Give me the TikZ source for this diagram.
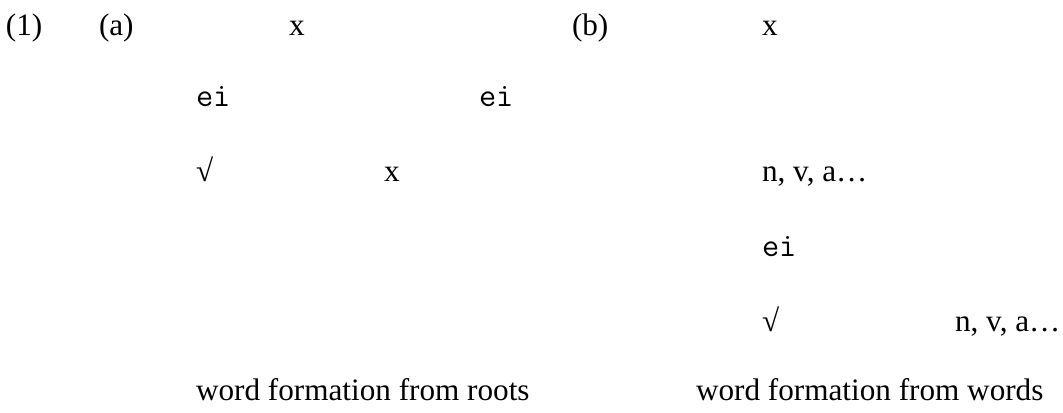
\documentclass[tikz,border=0pt]{standalone}
\usepackage{fontspec}
\setmainfont{Liberation Serif}
\begin{document}
\begin{tikzpicture}[x=0.75pt,y=-0.75pt,
  lbl/.style={inner sep=0pt,outer sep=0pt,anchor=base west,font=\fontsize{23.4}{28}\selectfont},
  mono/.style={lbl,font=\fontsize{25}{30}\selectfont\ttfamily}]
\useasboundingbox (0,0) rectangle (1063,412);
% row 1
\node[lbl] (n1) at (6,35) {(1)};
\node[lbl] (na) at (99,35) {(a)};
\node[lbl] (ax) at (289,35) {x};
\node[lbl] (nb) at (572,35) {(b)};
\node[lbl] (bx) at (762,35) {x};
% row 2
\node[mono] (aei1) at (196,106) {ei};
\node[mono] (aei2) at (479,106) {ei};
% row 3
\node[lbl] (aroot) at (196,181) {√};
\node[lbl] (ax2) at (384,181) {x};
\node[lbl] (bnva) at (762,181) {n, v, a…};
% row 4
\node[mono] (bei) at (762,256) {ei};
% row 5
\node[lbl] (broot) at (762,331) {√};
\node[lbl] (bnva2) at (955,331) {n, v, a…};
% captions
\node[lbl] (capa) at (196,400) {word formation from roots};
\node[lbl] (capb) at (696,400) {word formation from words};
\end{tikzpicture}
\end{document}
